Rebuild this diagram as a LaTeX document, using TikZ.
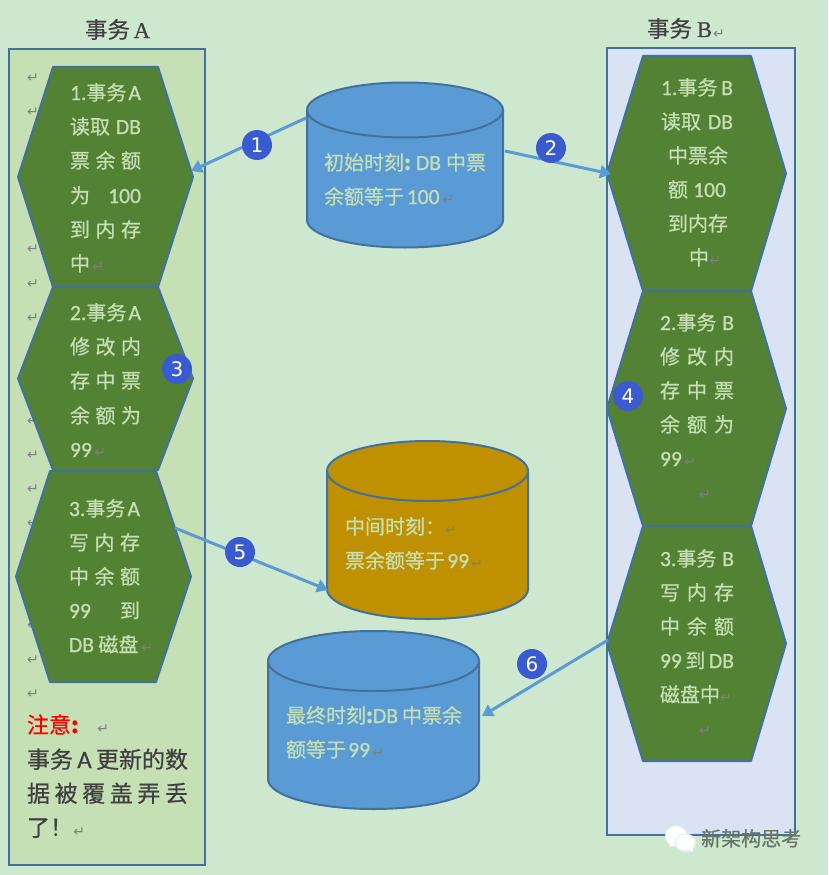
\documentclass[tikz,border=0pt]{standalone}
\usepackage{fontspec}
\setmainfont{Noto Sans CJK SC}[FakeBold=0.6]
\newfontfamily\latf{Carlito}[FakeBold=0.6,Scale=1.08]
\newfontfamily\serf{Liberation Serif}[FakeBold=0.4]
\newfontfamily\symf{DejaVu Sans}
\usetikzlibrary{arrows.meta}
\definecolor{bg}{HTML}{CDE8CF}
\definecolor{boxa}{HTML}{C5E0B4}
\definecolor{boxb}{HTML}{DAE3F3}
\definecolor{edge}{HTML}{41719C}
\definecolor{hexf}{HTML}{548235}
\definecolor{cylb}{HTML}{5B9BD5}
\definecolor{cylg}{HTML}{BF9000}
\definecolor{txtl}{HTML}{C5E0B4}
\definecolor{txtd}{HTML}{404040}
\definecolor{badge}{HTML}{3A5BD0}
\definecolor{retc}{HTML}{7F7F7F}
\newcommand{\lt}[1]{{\latf #1}}
\newcommand{\ret}{{\symf\fontsize{14}{14}\selectfont\textcolor{retc}{↵}}}
\newcount\lnc
% x, baseline y, width, content
\newcommand{\lin}[4]{\global\advance\lnc by 1
  \node[linetxt] (L\the\lnc) at (#1,#2) {\hbox to #3pt{#4}};}
\newcommand{\rmk}[2]{\global\advance\lnc by 1
  \node[inner sep=0,font=\symf] (L\the\lnc) at (#1,#2) {\ret};}
% name, cx, top-center y, bottom-center y, rx, ry, fill
\newcommand{\cyl}[7]{
  \fill[#7] (#2-#5,#3) arc[start angle=180,end angle=360,x radius=#5,y radius=#6] -- (#2+#5,#4) arc[start angle=0,end angle=180,x radius=#5,y radius=#6] -- cycle;
  \draw[cylline,fill=#7] (#2,#3) ellipse[x radius=#5,y radius=#6];
  \draw[cylline] (#2-#5,#3) -- (#2-#5,#4) arc[start angle=180,end angle=0,x radius=#5,y radius=#6] -- (#2+#5,#3);
  \coordinate (#1) at (#2,#3);}
% left, right, corner left, corner right, top, bottom
\newcommand{\hexa}[6]{
  \draw[hexline] (#3,#5) -- (#4,#5) -- (#2,{(#5+#6)/2}) -- (#4,#6) -- (#3,#6) -- (#1,{(#5+#6)/2}) -- cycle;
  }
\tikzset{
  x=1pt,y=-1pt,
  linetxt/.style={anchor=base west,inner sep=0,outer sep=0,font=\fontsize{20}{20}\selectfont,text=txtl},
  panel/.style={draw=edge,line width=2pt},
  hexline/.style={draw=edge,fill=hexf,line width=2pt,line join=round},
  cylline/.style={draw=edge,line width=2pt},
  conn/.style={draw=cylb,line width=3pt,-{Triangle[length=11pt,width=13pt]}},
  numb/.style={circle,fill=badge,text=white,minimum size=30pt,inner sep=0,font=\symf\fontsize{20}{20}\selectfont},
}
\begin{document}
\begin{tikzpicture}
\useasboundingbox (0,0) rectangle (828,875);
\fill[bg] (0,0) rectangle (828,875);
% panels
\draw[panel,fill=boxa] (9,49) rectangle (205,865);
\draw[panel,fill=boxb] (607,48) rectangle (795,835);
% titles
\lin{85}{38}{65}{\color{txtd}\fontsize{22.5}{24}\selectfont 事务\hfil{\serf A}}
\lin{647}{37}{65}{\color{txtd}\fontsize{22.5}{24}\selectfont 事务\hfil{\serf B}}
\rmk{719}{34}
% return marks behind the hexagons
\rmk{33}{78}\rmk{33}{112}\rmk{33}{249}\rmk{33}{284}\rmk{33}{318}\rmk{33}{421}\rmk{33}{455}\rmk{33}{489}\rmk{33}{523}\rmk{33}{625}\rmk{33}{660}\rmk{33}{694}
% hexagons left
\hexa{18}{193}{53}{158}{67}{287}
\hexa{18}{193}{53}{158}{287}{470}
\hexa{16}{191}{50}{156}{471}{682}
% hexagons right
\hexa{607}{786}{643}{751}{56}{291}
\hexa{607}{786}{643}{751}{291}{526}
\hexa{607}{786}{643}{751}{526}{761}
% cylinders
\cyl{c1}{405}{110}{220}{98}{27.5}{cylb}
\cyl{c2}{427.5}{471}{589}{100.5}{30}{cylg}
\cyl{c3}{373.5}{661}{779}{105.5}{30}{cylb}
% left hexagon text
\lin{70}{100}{71}{\lt{1.}事务\hfil\lt{A}}
\lin{70}{134}{71}{读取\hfil\lt{DB}}
\lin{70}{168}{71}{票\hfil 余\hfil 额}
\lin{70}{203}{71}{为\hfil\lt{100}}
\lin{70}{237}{71}{到\hfil 内\hfil 存}
\lin{70}{271}{34}{中\hfil\ret}
\lin{70}{320}{71}{\lt{2.}事务\hfil\lt{A}}
\lin{70}{354}{71}{修\hfil 改\hfil 内}
\lin{70}{388}{71}{存\hfil 中\hfil 票}
\lin{70}{423}{71}{余\hfil 额\hfil 为}
\lin{70}{457}{36}{\lt{99}\hfil\ret}
\lin{69}{516}{71}{\lt{3.}事务\hfil\lt{A}}
\lin{69}{550}{71}{写\hfil 内\hfil 存}
\lin{69}{584}{71}{中\hfil 余\hfil 额}
\lin{69}{618}{71}{\lt{99}\hfil 到}
\lin{69}{652}{84}{\lt{DB} 磁盘\hfil\ret}
% right hexagon text
\lin{661}{95}{72}{\lt{1.}事务\hfil\lt{B}}
\lin{661}{129}{72}{读取\hfil\lt{DB}}
\lin{668}{163}{60}{中票余}
\lin{668}{197}{58}{额\hfil\lt{100}}
\lin{668}{231}{60}{到内存}
\lin{689}{265}{32}{中\hfil\ret}
\lin{660}{330}{74}{\lt{2.}事务\hfil\lt{B}}
\lin{660}{364}{74}{修\hfil 改\hfil 内}
\lin{660}{398}{74}{存\hfil 中\hfil 票}
\lin{660}{432}{74}{余\hfil 额\hfil 为}
\lin{660}{466}{36}{\lt{99}\hfil\ret}
\rmk{705}{495}
\lin{660}{566}{74}{\lt{3.}事务\hfil\lt{B}}
\lin{660}{600}{74}{写\hfil 内\hfil 存}
\lin{660}{634}{74}{中\hfil 余\hfil 额}
\lin{660}{668}{74}{\lt{99}\hfil 到\hfil\lt{DB}}
\lin{660}{702}{72}{磁盘中\hfil\ret}
\rmk{705}{731}
% cylinder text
\lin{324}{170}{162}{初始时刻\textbf{:}\hfil\lt{DB}\hfil 中票}
\lin{324}{204}{130}{余额等于\hfil\lt{100}\hfil\ret}
\lin{345}{534}{109}{中间时刻：\hfil\ret}
\lin{345}{568}{138}{票余额等于\hfil\lt{99}\hfil\ret}
\lin{286}{723}{176}{最终时刻\textbf{:}\lt{DB}\hfil 中票余}
\lin{286}{757}{98}{额等于\hfil\lt{99}\hfil\ret}
% note
\lin{27}{733}{82}{\color{red}\fontsize{22}{22}\selectfont 注意\textbf{:}\hfil\ret}
\lin{27}{768}{161}{\color{txtd}\fontsize{23}{23}\selectfont 事务\hfil\lt{A}\hfil 更新的数}
\lin{27}{802}{161}{\color{txtd}\fontsize{23}{23}\selectfont 据\hfil 被\hfil 覆\hfil 盖\hfil 弄\hfil 丢}
\lin{27}{836}{58}{\color{txtd}\fontsize{23}{23}\selectfont 了！\hfil\ret}
% connector anchors
\coordinate (a1s) at (306,118); \coordinate (a1e) at (191,171);
\coordinate (a2s) at (505,151); \coordinate (a2e) at (611,174);
\coordinate (a5s) at (175,528); \coordinate (a5e) at (328,590);
\coordinate (a6s) at (608,640); \coordinate (a6e) at (482,716);
\draw[conn] (a1s) -- (a1e);
\draw[conn] (a2s) -- (a2e);
\draw[conn] (a5s) -- (a5e);
\draw[conn] (a6s) -- (a6e);
% badges
\node[numb] (n1) at (257,145) {1};
\node[numb] (n2) at (551,148) {2};
\node[numb] (n3) at (177,369) {3};
\node[numb] (n4) at (628,396) {4};
\node[numb] (n5) at (240,552) {5};
\node[numb] (n6) at (532,664) {6};
% watermark
\fill[white] (676,836) ellipse[x radius=11,y radius=10];
\fill[white] (670,844) -- (669,846.5) -- (677,846) -- cycle;
\fill[bg!60!white] (685.5,843) ellipse[x radius=11,y radius=9.5];
\fill[white] (685,842.5) ellipse[x radius=9.5,y radius=8];
\fill[white] (689,849) -- (693,852.5) -- (692,847) -- cycle;
\node[inner sep=0,anchor=base west,text=black!50!bg,font=\fontsize{20}{20}\selectfont] (wm) at (701,846) {新架构思考};
\end{tikzpicture}
\end{document}
